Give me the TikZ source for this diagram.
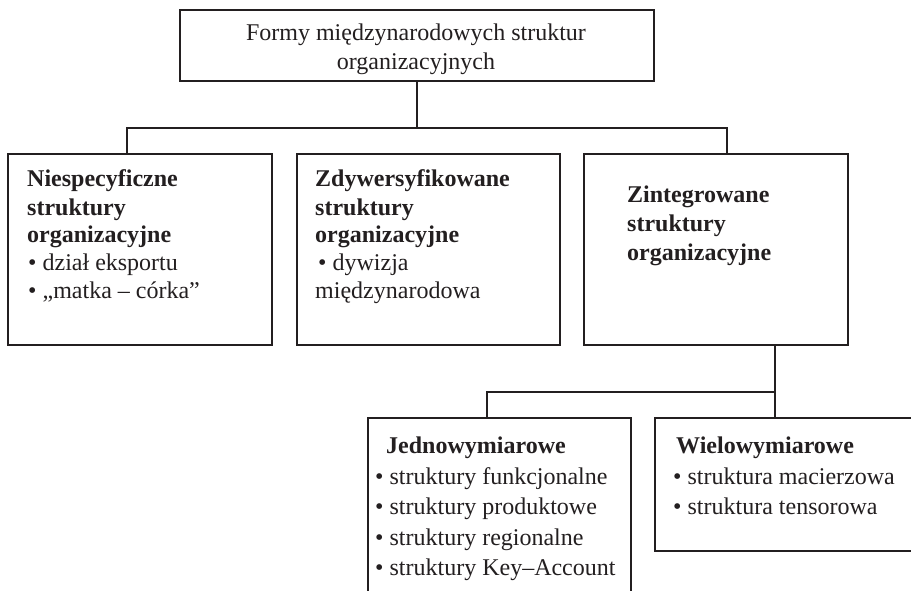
\documentclass[tikz,border=0pt]{standalone}
\usepackage{fontspec}
\setmainfont{Liberation Serif}
\definecolor{ink}{HTML}{231F20}
\begin{document}
\begin{tikzpicture}[x=1pt,y=-1pt,
  box/.style={draw=ink, line width=1.6pt, rectangle, inner sep=0pt, anchor=north west},
  conn/.style={draw=ink, line width=1.6pt},
  txt/.style={anchor=base west, inner sep=0pt, text=ink, font=\fontsize{24}{28}\selectfont},
  btxt/.style={txt, font=\fontsize{24}{28}\selectfont\bfseries},
  ctxt/.style={txt, anchor=base}]
\useasboundingbox (0,0) rectangle (911,591);
\clip (0,0) rectangle (911,591);
\fill[white] (0,0) rectangle (911,591);

% boxes
\node[box, minimum width=474pt, minimum height=71pt] (top) at (179,9) {};
\node[box, minimum width=264pt, minimum height=191pt] (left) at (7,153) {};
\node[box, minimum width=263pt, minimum height=191pt] (mid) at (296,153) {};
\node[box, minimum width=264pt, minimum height=191pt] (right) at (583,153) {};
\node[box, minimum width=263pt, minimum height=200pt] (jedn) at (367,417) {};
\node[box, minimum width=270pt, minimum height=133pt] (wielo) at (654,417) {};

% connectors
\coordinate (bl) at (127,128);
\coordinate (br) at (727,128);
\draw[conn] (top.south) -- (top.south |- bl);
\draw[conn] (bl |- left.north) -- (bl) -- (br) -- (br |- right.north);
\coordinate (cr) at (775,392);
\coordinate (cl) at (487,392);
\draw[conn] (cr |- right.south) -- (cr |- wielo.north);
\draw[conn] (cr) -- (cl) -- (cl |- jedn.north);

% texts
\node[ctxt] (t1) at (416,41) {Formy międzynarodowych struktur};
\node[ctxt] (t2) at (416,70) {organizacyjnych};

\node[btxt] (a1) at (27,187) {Niespecyficzne};
\node[btxt] (a2) at (27,215) {struktury};
\node[btxt] (a3) at (27,242) {organizacyjne};
\node[txt] (a4) at (28,270) {• dział eksportu};
\node[txt] (a5) at (28,298) {• „matka – córka”};

\node[btxt] (b1) at (315,187) {Zdywersyfikowane};
\node[btxt] (b2) at (315,215) {struktury};
\node[btxt] (b3) at (315,242) {organizacyjne};
\node[txt] (b4) at (318,270) {• dywizja};
\node[txt] (b5) at (315,298) {międzynarodowa};

\node[btxt] (c1) at (627,203) {Zintegrowane};
\node[btxt] (c2) at (627,232) {struktury};
\node[btxt] (c3) at (627,260) {organizacyjne};

\node[btxt] (d1) at (386,453) {Jednowymiarowe};
\node[txt] (d2) at (375,484) {• struktury funkcjonalne};
\node[txt] (d3) at (375,514) {• struktury produktowe};
\node[txt] (d4) at (375,545) {• struktury regionalne};
\node[txt] (d5) at (375,575) {• struktury Key–Account};

\node[btxt] (e1) at (676,453) {Wielowymiarowe};
\node[txt] (e2) at (673,484) {• struktura macierzowa};
\node[txt] (e3) at (673,514) {• struktura tensorowa};
\end{tikzpicture}
\end{document}
